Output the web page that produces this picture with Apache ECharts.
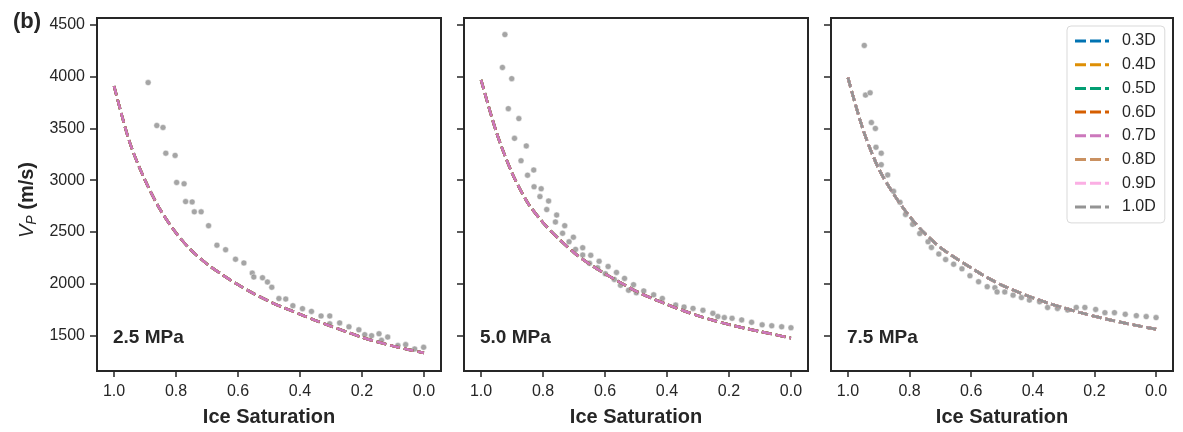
<!DOCTYPE html>
<html>
<head>
<meta charset="utf-8">
<title>Vp vs ice saturation</title>
<script src="https://cdn.jsdelivr.net/npm/echarts@6.0.0/dist/echarts.min.js"></script>
<style>
    html, body { margin: 0; padding: 0; background: #fff; }
    #chart { width: 1183px; height: 432px; }
</style>
</head>
<body>
<div id="chart"></div>
<script>
var FONT = '"Liberation Sans", Arial, sans-serif';
var INK = '#262626';

// 图例/曲线
var dLabels = ['0.3D', '0.4D', '0.5D', '0.6D', '0.7D', '0.8D', '0.9D', '1.0D'];
var dColors = ['#0173b2', '#de8f05', '#029e73', '#d55e00', '#cc78bc', '#ca9161', '#fbafe4', '#949494'];
var pressures = ['2.5 MPa', '5.0 MPa', '7.5 MPa'];

var xTicks = [0.0, 0.2, 0.4, 0.6, 0.8, 1.0];
var yTicks = [1500, 2000, 2500, 3000, 3500, 4000, 4500];

// 模型曲线的冰饱和度取样点 (1.0 -> 0.0)
var satSteps = [1.0, 0.95, 0.9, 0.85, 0.8, 0.75, 0.7, 0.65, 0.6, 0.55, 0.5,
    0.45, 0.4, 0.35, 0.3, 0.25, 0.2, 0.15, 0.1, 0.05, 0.0];
// 对应的 Vp (m/s)
var curve25 = [3910, 3370, 3000, 2710, 2490, 2320, 2190, 2085, 1990, 1905, 1830,
    1765, 1705, 1645, 1588, 1535, 1482, 1437, 1398, 1363, 1331];
var curve50 = [3970, 3460, 3070, 2785, 2590, 2435, 2300, 2190, 2095, 2010, 1928,
    1860, 1800, 1742, 1690, 1645, 1605, 1570, 1538, 1506, 1474];
var curve75 = [3990, 3480, 3110, 2858, 2650, 2484, 2350, 2247, 2152, 2062, 1985,
    1922, 1864, 1812, 1766, 1724, 1685, 1650, 1618, 1588, 1560];

// 实测点 [冰饱和度, Vp]
var meas25 = [[0.890, 3943], [0.862, 3528], [0.842, 3509], [0.833, 3261], [0.803, 3239], [0.798, 2978],
    [0.774, 2965], [0.769, 2793], [0.748, 2790], [0.741, 2694], [0.719, 2694], [0.695, 2560],
    [0.668, 2372], [0.640, 2328], [0.608, 2236], [0.581, 2200], [0.554, 2102], [0.549, 2064],
    [0.521, 2057], [0.505, 2016], [0.491, 1965], [0.468, 1856], [0.446, 1851], [0.423, 1787],
    [0.392, 1758], [0.363, 1732], [0.332, 1688], [0.304, 1688], [0.304, 1612], [0.272, 1621],
    [0.242, 1583], [0.210, 1554], [0.191, 1507], [0.169, 1497], [0.145, 1516], [0.137, 1452],
    [0.117, 1484], [0.084, 1402], [0.059, 1411], [0.030, 1369], [0.001, 1385]];
var meas50 = [[0.923, 4407], [0.931, 4089], [0.901, 3981], [0.912, 3691], [0.878, 3595], [0.892, 3404],
    [0.854, 3331], [0.871, 3188], [0.830, 3098], [0.850, 3048], [0.829, 2936], [0.806, 2917],
    [0.810, 2841], [0.782, 2799], [0.788, 2716], [0.756, 2663], [0.760, 2596], [0.730, 2560],
    [0.737, 2487], [0.702, 2449], [0.716, 2405], [0.695, 2331], [0.672, 2347], [0.672, 2277],
    [0.646, 2274], [0.650, 2197], [0.619, 2216], [0.624, 2153], [0.590, 2166], [0.599, 2096],
    [0.563, 2109], [0.570, 2041], [0.537, 2051], [0.550, 1984], [0.508, 1990], [0.524, 1937],
    [0.499, 1911], [0.475, 1930], [0.443, 1892], [0.415, 1857], [0.372, 1793], [0.345, 1774],
    [0.316, 1761], [0.284, 1742], [0.252, 1713], [0.236, 1682], [0.215, 1672], [0.190, 1665],
    [0.159, 1650], [0.127, 1627], [0.093, 1602], [0.062, 1593], [0.030, 1583], [0.0, 1574]];
var meas75 = [[0.947, 4302], [0.943, 3822], [0.928, 3844], [0.924, 3557], [0.911, 3500], [0.909, 3318],
    [0.892, 3261], [0.892, 3150], [0.871, 3051], [0.852, 2892], [0.831, 2787], [0.813, 2669],
    [0.790, 2573], [0.767, 2484], [0.740, 2405], [0.729, 2350], [0.705, 2286], [0.683, 2233],
    [0.657, 2188], [0.630, 2143], [0.604, 2076], [0.576, 2019], [0.548, 1971], [0.523, 1961],
    [0.516, 1920], [0.491, 1920], [0.464, 1889], [0.437, 1866], [0.411, 1841], [0.378, 1825],
    [0.352, 1770], [0.320, 1761], [0.287, 1745], [0.259, 1770], [0.231, 1770], [0.196, 1751],
    [0.166, 1720], [0.135, 1720], [0.100, 1704], [0.064, 1691], [0.032, 1682], [0.0, 1672]];

var curves = [curve25, curve50, curve75];
var measured = [meas25, meas50, meas75];
var lineCounts = [5, 5, 8];   // 前两个压力只画到0.7D

var panelLeft = [97, 464, 831];
var panelWidth = [344, 344, 342];

// 图例里的虚线图标 (34 x 3)
var dashIcon = 'path://M0,0h11v3h-11z M15,0h11v3h-11z M30,0h4v3h-4z';

function pairUp(xs, ys) {
    return xs.map(function (x, k) { return [x, ys[k]]; });
}

var chart = echarts.init(document.getElementById('chart'), null, { renderer: 'canvas' });

var grids = [], xAxes = [], yAxes = [], series = [], graphics = [];

for (var p = 0; p < 3; p++) {
    grids.push({
        left: panelLeft[p], top: 18, width: panelWidth[p], height: 357,
        show: true, borderColor: INK, borderWidth: 2, backgroundColor: 'transparent'
    });
    xAxes.push({
        gridIndex: p, type: 'value', inverse: true, min: -0.055, max: 1.055,
        axisLine: { show: false, onZero: false }, splitLine: { show: false },
        axisTick: { show: true, length: 6, customValues: xTicks, lineStyle: { color: INK, width: 1.5 } },
        axisLabel: {
            customValues: xTicks, margin: 13, fontSize: 16, color: INK, fontFamily: FONT,
            formatter: function (v) { return v.toFixed(1); }
        },
        name: 'Ice Saturation', nameLocation: 'middle', nameGap: 36,
        nameTextStyle: { fontSize: 20, fontWeight: 'bold', color: INK, fontFamily: FONT }
    });
    yAxes.push({
        gridIndex: p, type: 'value', position: 'left', min: 1156, max: 4567,
        axisLine: { show: false, onZero: false }, splitLine: { show: false },
        axisTick: { show: true, length: 7, customValues: yTicks, lineStyle: { color: INK, width: 1.5 } },
        axisLabel: {
            show: p === 0, customValues: yTicks, margin: 12, fontSize: 16, color: INK, fontFamily: FONT,
            formatter: function (v) { return String(v); }
        }
    });

    // 实测散点
    series.push({
        type: 'scatter', name: 'measured', xAxisIndex: p, yAxisIndex: p, z: 1,
        data: measured[p], symbolSize: 6,
        itemStyle: { color: '#8f8f8f', borderColor: '#fff', borderWidth: 0.6 }
    });
    // 各D的模型线
    var lineData = pairUp(satSteps, curves[p]);
    for (var i = 0; i < lineCounts[p]; i++) {
        series.push({
            type: 'line', name: dLabels[i], xAxisIndex: p, yAxisIndex: p, z: 2,
            data: lineData, smooth: 0.3, symbol: 'none', showSymbol: false,
            color: dColors[i],
            lineStyle: { color: dColors[i], width: 2.7, type: [10, 4] }
        });
    }

    graphics.push({
        type: 'text', x: panelLeft[p] + 16, y: 338,
        style: { text: pressures[p], font: 'bold 19px ' + FONT, fill: INK, verticalAlign: 'middle' }
    });
}

graphics.push({
    type: 'text', x: 13, y: 22,
    style: { text: '(b)', font: 'bold 22px ' + FONT, fill: INK, verticalAlign: 'middle' }
});
graphics.push({
    type: 'text', x: 27, y: 200, rotation: Math.PI / 2,
    style: {
        text: '{v|V}{s|P}{b| (m/s)}', align: 'center', verticalAlign: 'middle', fill: INK,
        rich: {
            v: { fontSize: 20, fontStyle: 'italic', fontFamily: FONT, fill: INK, lineHeight: 24 },
            s: { fontSize: 14, fontStyle: 'italic', fontFamily: FONT, fill: INK, lineHeight: 14, verticalAlign: 'bottom' },
            b: { fontSize: 20, fontWeight: 'bold', fontFamily: FONT, fill: INK, lineHeight: 24 }
        }
    }
});

var option = {
    animation: false,
    textStyle: { fontFamily: FONT },
    grid: grids,
    xAxis: xAxes,
    yAxis: yAxes,
    legend: {
        data: dLabels.map(function (n) { return { name: n, icon: dashIcon }; }),
        orient: 'vertical', left: 1067, top: 26,
        padding: [7, 9, 8, 8], itemGap: 7.7, itemWidth: 34, itemHeight: 3, symbolKeepAspect: false,
        backgroundColor: '#fff', borderColor: '#d9d9d9', borderWidth: 1, borderRadius: 4,
        textStyle: { fontSize: 16, color: INK, fontFamily: FONT, lineHeight: 16, padding: [0, 0, 0, 8] }
    },
    series: series,
    graphic: graphics
};

chart.setOption(option);
</script>
</body>
</html>
